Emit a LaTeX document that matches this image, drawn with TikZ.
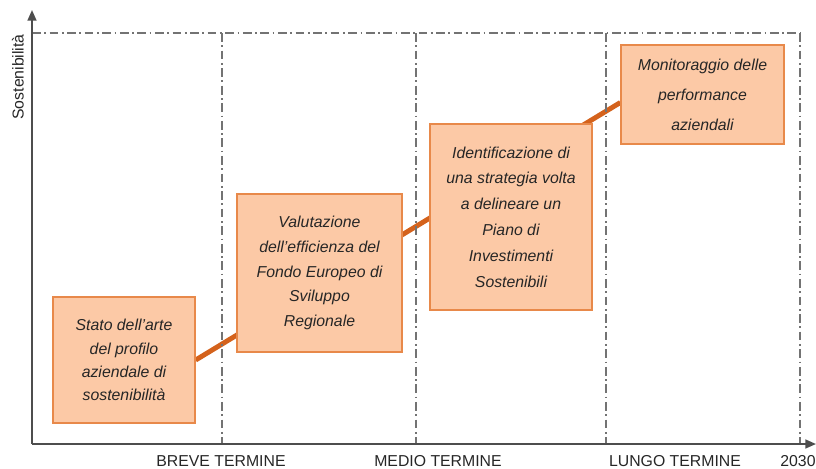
\documentclass[tikz,border=0pt]{standalone}
\usepackage{fontspec}
\setmainfont{Liberation Sans}
\usepackage{xcolor}
\usetikzlibrary{arrows.meta,positioning,calc,backgrounds}

\definecolor{boxfill}{HTML}{FCC9A6}
\definecolor{boxline}{HTML}{E8894A}
\definecolor{trendline}{HTML}{D4621C}
\definecolor{axisgray}{HTML}{4D4D4D}

\begin{document}
\begin{tikzpicture}[
  x=0.02cm, y=-0.02cm,
  phase/.style={rectangle, draw=boxline, fill=boxfill, line width=0.8pt, align=center, text=black!85, font=\itshape\fontsize{9}{14}\selectfont},
  phaseline/.style={draw=black!55, dash pattern=on 5pt off 2pt on 1pt off 2pt, line width=0.8pt},
  axisarrow/.style={draw=axisgray, line width=1pt, -{Triangle[length=6pt,width=5pt]}},
  trend/.style={draw=trendline, line width=2.8pt},
  period/.style={text=black!85, inner sep=0pt, font=\fontsize{9}{11}\selectfont}
]
\useasboundingbox (0,0) rectangle (816,468);

% time periods
\foreach \x in {222,416,606,800}
  \draw[phaseline] (\x,33) -- (\x,444);
\draw[phaseline] (32,33) -- (800,33);

% axes
\coordinate (origin) at (32,444);
\coordinate (ytop) at (32,10);
\coordinate (xend) at (816,444);
\draw[axisarrow] (origin) -- (ytop);
\draw[axisarrow] (origin) -- (xend);
\node[rotate=90, text=black!85, font=\fontsize{9}{11}\selectfont] (ylab) at (18,77) {Sostenibilità};

\node[period] (breve) at (221,461) {BREVE TERMINE};
\node[period] (medio) at (438,461) {MEDIO TERMINE};
\node[period] (lungo) at (675,461) {LUNGO TERMINE};
\node[period] (anno) at (798,461) {2030};

% phases
\node[phase, minimum width=2.84cm, minimum height=2.52cm, font=\itshape\fontsize{9}{13.2}\selectfont] (stato) at (124,360) {Stato dell'arte\\del profilo\\aziendale di\\sostenibilità};
\node[phase, minimum width=3.3cm, minimum height=3.16cm] (fondo) at (319.5,273) {Valutazione\\dell'efficienza del\\Fondo Europeo di\\Sviluppo\\Regionale};
\node[phase, minimum width=3.24cm, minimum height=3.72cm, font=\itshape\fontsize{9}{14.7}\selectfont] (piano) at (511,217) {Identificazione di\\una strategia volta\\a delineare un\\Piano di\\Investimenti\\Sostenibili};
\node[phase, minimum width=3.26cm, minimum height=1.98cm, font=\itshape\fontsize{9}{17}\selectfont] (monit) at (702.5,94.5) {Monitoraggio delle\\performance\\aziendali};

\begin{scope}[on background layer]
  \draw[trend] (stato.east) -- ($(monit.south west)!0.42!(monit.north west)$);
\end{scope}
\end{tikzpicture}
\end{document}
